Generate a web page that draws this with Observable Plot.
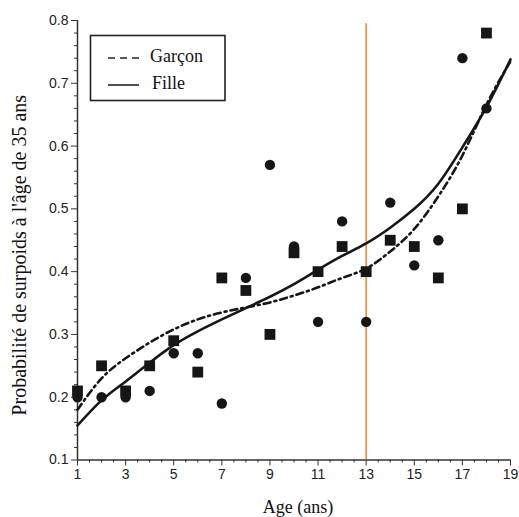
<!DOCTYPE html>
<html><head><meta charset="utf-8">
<script src="https://cdn.jsdelivr.net/npm/d3@7"></script>
<script src="https://cdn.jsdelivr.net/npm/@observablehq/plot@0.6"></script>
<style>
html,body{margin:0;padding:0;background:#fff;}
#wrap{position:relative;width:519px;height:517px;overflow:hidden;}
#legend{position:absolute;left:0;top:0;pointer-events:none;}
</style></head><body><div id="wrap"></div>
<script>
// ---- data ----
const curveAges = [1,2,3,4,5,6,7,8,9,10,11,12,13,14,15,16,17,18,19];
const filleCurve  = [0.155,0.195,0.225,0.255,0.283,0.305,0.324,0.342,0.360,0.380,0.403,0.425,0.445,0.470,0.500,0.540,0.598,0.662,0.738];
const garconCurve = [0.180,0.230,0.262,0.287,0.308,0.324,0.335,0.343,0.351,0.362,0.375,0.390,0.405,0.432,0.468,0.520,0.585,0.666,0.735];
const pointAges   = [1,2,3,4,5,6,7,8,9,10,11,12,13,14,15,16,17,18];
const squareVals  = [0.21,0.25,0.21,0.25,0.29,0.24,0.39,0.37,0.30,0.43,0.40,0.44,0.40,0.45,0.44,0.39,0.50,0.78];
const circleVals  = [0.20,0.20,0.20,0.21,0.27,0.27,0.19,0.39,0.57,0.44,0.32,0.48,0.32,0.51,0.41,0.45,0.74,0.66];
const xTicks = [1,3,5,7,9,11,13,15,17,19];
const yTicks = [0.1,0.2,0.3,0.4,0.5,0.6,0.7,0.8];
const cutoffAge = 13;
const seriesNames = ["Garçon","Fille"];
const xLabel = "Age (ans)";
const yLabel = "Probabilité de surpoids à l'âge de 35 ans";

// ---- derived tables ----
const filleRows  = curveAges.map((a,i)=>({age:a, p:filleCurve[i]}));
const garconRows = curveAges.map((a,i)=>({age:a, p:garconCurve[i]}));
const squares = pointAges.map((a,i)=>({age:a, p:squareVals[i]}));
const circles = pointAges.map((a,i)=>({age:a, p:circleVals[i]}));
const minorX = d3.range(1, 19.001, 0.5).filter(v => !xTicks.includes(v));
const minorY = d3.range(0.1, 0.8001, 0.02).map(v=>+v.toFixed(2)).filter(v => !yTicks.some(t=>Math.abs(t-v)<1e-6));

const ink = "#161616";
const serif = "'Liberation Serif','Times New Roman',serif";

const chart = Plot.plot({
  width: 519, height: 517,
  marginLeft: 77, marginRight: 9, marginTop: 20, marginBottom: 57.5,
  x: {domain: [1,19]},
  y: {domain: [0.1,0.8]},
  style: {fontFamily: "'Liberation Sans',Arial,sans-serif", fontSize: "14px", color: "#222", background: "white", overflow: "visible"},
  marks: [
    Plot.axisX({ticks: minorX, tickSize: 3, tickFormat: () => "", label: null, stroke: "#333"}),
    Plot.axisX({ticks: xTicks, tickSize: 6, tickPadding: 3, tickFormat: d => String(d), label: null, stroke: "#333", fill: "#222"}),
    Plot.axisY({ticks: minorY, tickSize: 3, tickFormat: () => "", label: null, stroke: "#333"}),
    Plot.axisY({ticks: yTicks, tickSize: 6, tickPadding: 3, tickFormat: d => d.toFixed(1), label: null, stroke: "#333", fill: "#222"}),
    Plot.ruleY([0.1], {stroke: "#333", strokeWidth: 1.5}),
    Plot.ruleX([1], {stroke: "#333", strokeWidth: 1.5}),
    Plot.ruleX([cutoffAge], {y1: 0.1, y2: 0.795, stroke: "#ef7f2f", strokeWidth: 1.5}),
    Plot.line(garconRows, {x: "age", y: "p", curve: "natural", stroke: ink, strokeWidth: 2.6, strokeDasharray: "7 4 2 4"}),
    Plot.line(filleRows, {x: "age", y: "p", curve: "natural", stroke: ink, strokeWidth: 2.6}),
    Plot.dot(squares, {x: "age", y: "p", symbol: "square", r: 6.1, fill: ink, stroke: null}),
    Plot.dot(circles, {x: "age", y: "p", symbol: "circle", r: 5.2, fill: ink, stroke: null}),
    Plot.text([yLabel], {text: d => d, frameAnchor: "left", textAnchor: "middle", rotate: -90, dx: -58, dy: 15, fontFamily: serif, fontSize: 20, fill: "#111"}),
    Plot.text([xLabel], {text: d => d, frameAnchor: "bottom", textAnchor: "middle", lineAnchor: "bottom", dx: 4, dy: 53, fontFamily: serif, fontSize: 18, fill: "#111"})
  ]
});
const wrap = document.getElementById("wrap");
wrap.appendChild(chart);

// legend box inside the plot area
const ns = "http://www.w3.org/2000/svg";
const lg = document.createElementNS(ns, "svg");
lg.setAttribute("id","legend");
lg.setAttribute("width","519"); lg.setAttribute("height","517");
const rect = document.createElementNS(ns,"rect");
Object.entries({x:90.5,y:35.5,width:134.5,height:65,fill:"white",stroke:"#222","stroke-width":1.6}).forEach(([k,v])=>rect.setAttribute(k,v));
lg.appendChild(rect);
const rows = [{name: seriesNames[0], dash: "7 5", y: 58}, {name: seriesNames[1], dash: null, y: 85}];
rows.forEach(r => {
  const ln = document.createElementNS(ns,"line");
  Object.entries({x1:108,x2:139,y1:r.y,y2:r.y,stroke:"#222","stroke-width":1.6}).forEach(([k,v])=>ln.setAttribute(k,v));
  if (r.dash) ln.setAttribute("stroke-dasharray", r.dash);
  lg.appendChild(ln);
  const t = document.createElementNS(ns,"text");
  t.setAttribute("x", r.name === "Fille" ? 152 : 150);
  t.setAttribute("y", r.y + 4);
  t.setAttribute("font-family", serif);
  t.setAttribute("font-size", 18);
  t.setAttribute("fill", "#111");
  t.textContent = r.name;
  lg.appendChild(t);
});
wrap.appendChild(lg);
</script>
</body></html>
